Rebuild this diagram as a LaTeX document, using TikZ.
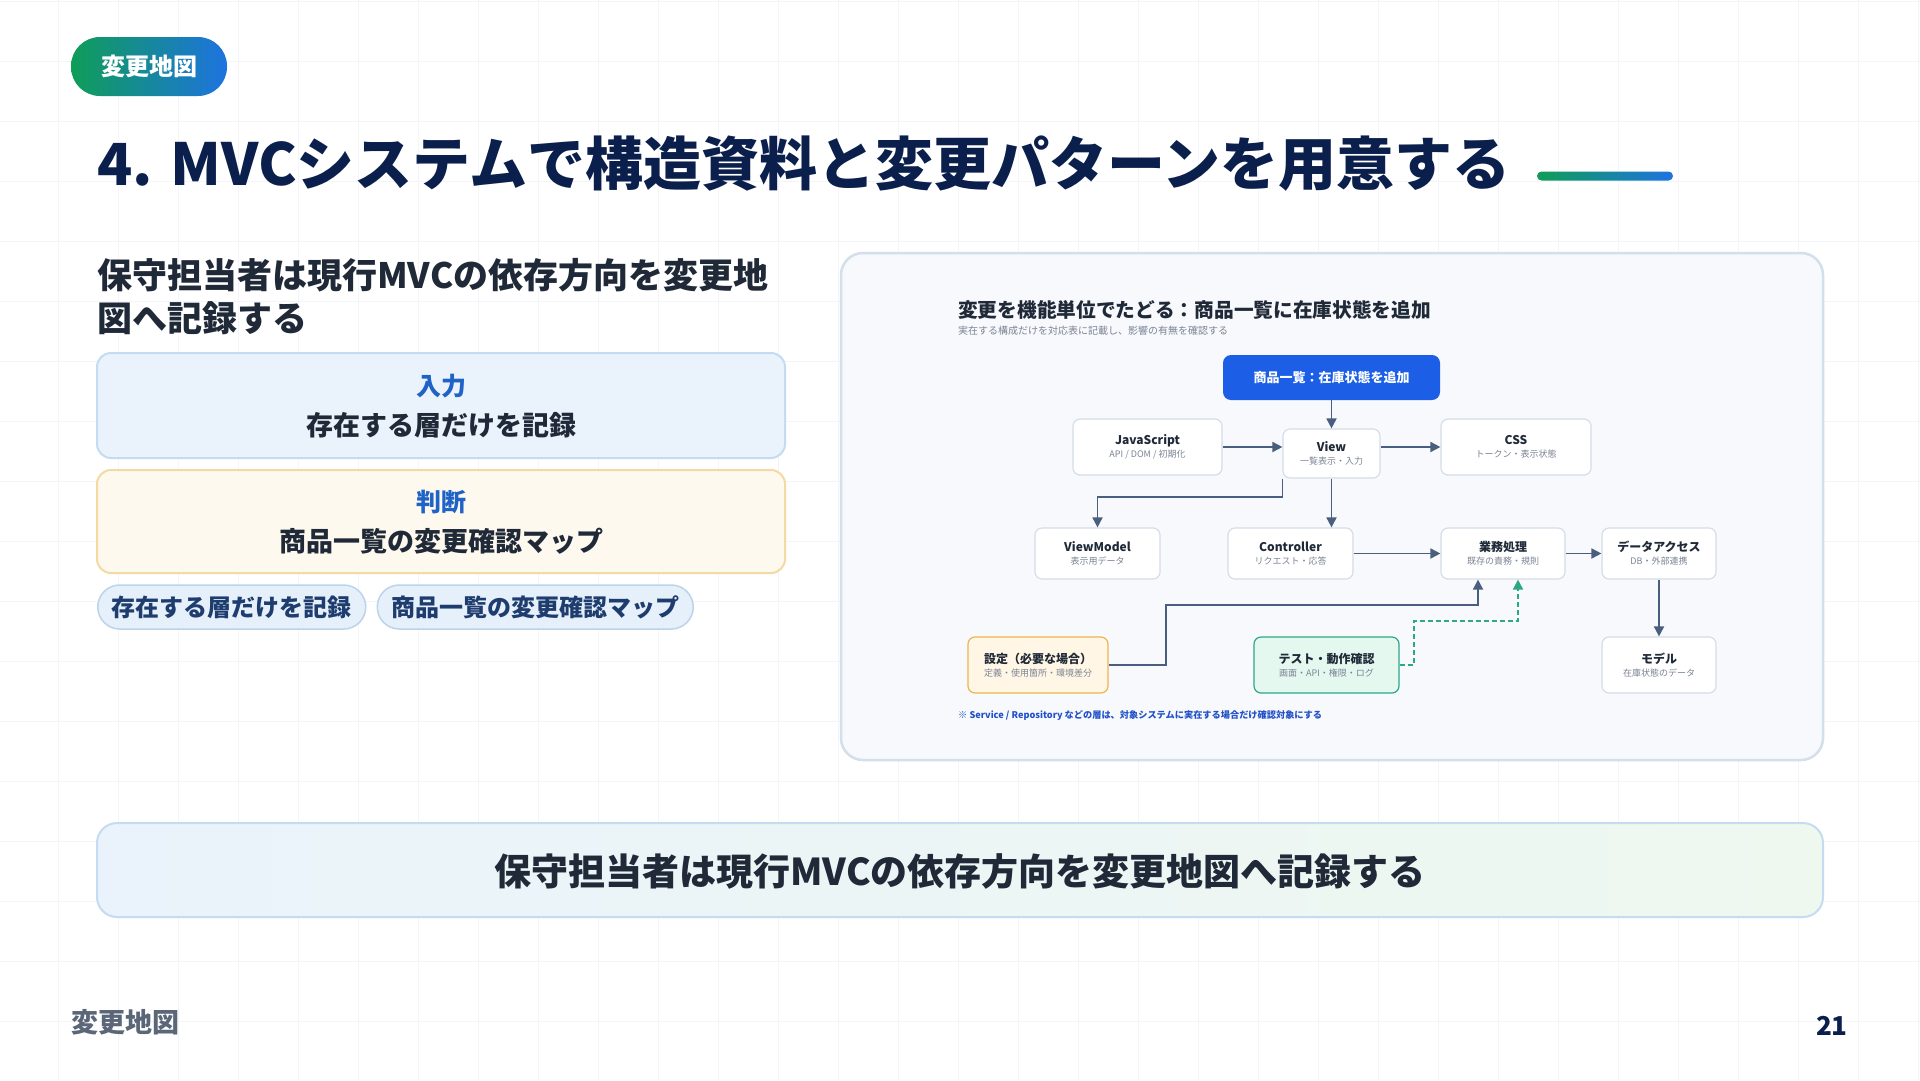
\documentclass[tikz,border=0pt]{standalone}
\usepackage{fontspec}
\setmainfont{Noto Sans CJK JP}
\usetikzlibrary{positioning, arrows.meta}

\definecolor{navy}{HTML}{0B1F4D}
\definecolor{ink}{HTML}{1F2937}
\definecolor{subgray}{HTML}{7B8494}
\definecolor{gridline}{HTML}{F3F5F8}
\definecolor{badgegreen}{HTML}{0F9D58}
\definecolor{badgeblue}{HTML}{1E73E0}
\definecolor{inputbg}{HTML}{EAF3FC}
\definecolor{inputline}{HTML}{C4DBF1}
\definecolor{judgebg}{HTML}{FEF9EE}
\definecolor{judgeline}{HTML}{F4D9A2}
\definecolor{labelblue}{HTML}{1F63C6}
\definecolor{pilltext}{HTML}{1E3D6E}
\definecolor{pillbg}{HTML}{E6F0FA}
\definecolor{pillline}{HTML}{BCD3EA}
\definecolor{panelbg}{HTML}{F7F9FC}
\definecolor{panelline}{HTML}{D3DFEB}
\definecolor{nodeline}{HTML}{D5DDE8}
\definecolor{arrowgray}{HTML}{4A5F7F}
\definecolor{actionblue}{HTML}{1C5FE6}
\definecolor{confbg}{HTML}{FFF6E5}
\definecolor{confline}{HTML}{EDB54F}
\definecolor{testbg}{HTML}{E5F8F0}
\definecolor{testline}{HTML}{2DA884}
\definecolor{noteblue}{HTML}{2150C8}
\definecolor{bannerl}{HTML}{EAF3FB}
\definecolor{bannerr}{HTML}{EEF8EF}
\definecolor{footgray}{HTML}{5B6678}

\newcommand{\ctext}[2]{{\fontsize{12}{14}\selectfont\bfseries\color{ink}#1}\\[1pt]{\fontsize{9}{10}\selectfont\color{subgray}#2}}

\begin{document}
\begin{tikzpicture}[x=1pt, y=-1pt,
    comp/.style={draw=nodeline, fill=white, rounded corners=7pt, line width=1.2pt, align=center, inner sep=0pt},
    flow/.style={draw=arrowgray, line width=1.8pt, -{Triangle[length=10pt,width=10pt]}},
    testflow/.style={flow, draw=testline, dashed, dash pattern=on 5pt off 3pt},
    pill/.style={draw=pillline, fill=pillbg, line width=1.5pt, rounded corners=22pt, minimum height=44pt, inner xsep=14pt,
        font=\fontsize{24}{26}\selectfont\bfseries, text=pilltext},
    boxhead/.style={font=\fontsize{25}{28}\selectfont\bfseries, text=labelblue},
    boxbody/.style={font=\fontsize{27}{30}\selectfont\bfseries, text=ink}]
    \useasboundingbox (0,0) rectangle (1920,1080);
    \fill[white] (0,0) rectangle (1920,1080);
    %background grid
    \foreach \x in {58,118,...,1918} \draw[gridline, line width=1pt] (\x,0) -- (\x,1080);
    \foreach \y in {1,61,...,1081} \draw[gridline, line width=1pt] (0,\y) -- (1920,\y);

    %header
    \shade[left color=badgegreen, right color=badgeblue, rounded corners=29pt] (71,37) rectangle (227,96);
    \node[text=white, font=\fontsize{24}{26}\selectfont\bfseries] (badge) at (149,66.5) {変更地図};
    \node[anchor=west, inner sep=0pt, text=navy, font=\fontsize{58}{64}\selectfont\bfseries] (title) at (97,164)
        {4. MVCシステムで構造資料と変更パターンを用意する};
    \shade[left color=badgegreen, right color=badgeblue, rounded corners=4.5pt] (1537,171.5) rectangle (1673,180.5);

    %left column
    \node[anchor=north west, inner sep=0pt, align=left, text=ink, font=\fontsize{35}{43}\selectfont\bfseries] (lead) at (97,258)
        {保守担当者は現行MVCの依存方向を変更地\\図へ記録する};
    \draw[fill=inputbg, draw=inputline, line width=2pt, rounded corners=14pt] (97,353) rectangle (785,458);
    \node[boxhead] (inHead) at (441,386) {入力};
    \node[boxbody] (inBody) at (441,425) {存在する層だけを記録};
    \draw[fill=judgebg, draw=judgeline, line width=2pt, rounded corners=14pt] (97,470) rectangle (785,573);
    \node[boxhead] (judgeHead) at (441,502) {判断};
    \node[boxbody] (judgeBody) at (441,541) {商品一覧の変更確認マップ};
    \node[pill, anchor=west] (pillA) at (97,607) {存在する層だけを記録};
    \node[pill, right=10pt of pillA] (pillB) {商品一覧の変更確認マップ};

    %diagram panel
    \draw[fill=panelbg, draw=panelline, line width=2.5pt, rounded corners=22pt] (841,253) rectangle (1823,760);
    \node[anchor=west, inner sep=0pt, text=ink, font=\fontsize{19.7}{22}\selectfont\bfseries] (ptitle) at (958,310)
        {変更を機能単位でたどる：商品一覧に在庫状態を追加};
    \node[anchor=west, inner sep=0pt, text=subgray, font=\fontsize{10}{12}\selectfont] (psub) at (958,331)
        {実在する構成だけを対応表に記載し、影響の有無を確認する};

    \node[fill=actionblue, rounded corners=8pt, minimum width=217pt, minimum height=45pt, text=white,
        font=\fontsize{13}{15}\selectfont\bfseries] (top) at (1331.5,377.5) {商品一覧：在庫状態を追加};
    \node[comp, minimum width=149pt, minimum height=56pt] (js) at (1147.5,447) {\ctext{JavaScript}{API / DOM / 初期化}};
    \node[comp, minimum width=97pt, minimum height=49pt] (view) at (1331.5,453.5) {\ctext{View}{一覧表示・入力}};
    \node[comp, minimum width=150pt, minimum height=56pt] (css) at (1516,447) {\ctext{CSS}{トークン・表示状態}};
    \node[comp, minimum width=125pt, minimum height=51pt] (vm) at (1097.5,553.5) {\ctext{ViewModel}{表示用データ}};
    \node[comp, minimum width=125pt, minimum height=51pt] (ctrl) at (1290.5,553.5) {\ctext{Controller}{リクエスト・応答}};
    \node[comp, minimum width=124pt, minimum height=51pt] (biz) at (1503,553.5) {\ctext{業務処理}{既存の責務・規則}};
    \node[comp, minimum width=114pt, minimum height=51pt] (dao) at (1659,553.5) {\ctext{データアクセス}{DB・外部連携}};
    \node[comp, fill=confbg, draw=confline, minimum width=140pt, minimum height=56pt] (conf) at (1038,665)
        {\ctext{設定（必要な場合）}{定義・使用箇所・環境差分}};
    \node[comp, fill=testbg, draw=testline, minimum width=145pt, minimum height=56pt] (test) at (1326.5,665)
        {\ctext{テスト・動作確認}{画面・API・権限・ログ}};
    \node[comp, minimum width=114pt, minimum height=56pt] (model) at (1659,665) {\ctext{モデル}{在庫状態のデータ}};
    \node[anchor=west, inner sep=0pt, text=noteblue, font=\fontsize{9.2}{11}\selectfont\bfseries] (note) at (958,716)
        {※ Service / Repository などの層は、対象システムに実在する場合だけ確認対象にする};

    %connectors
    \draw[flow] (top) -- (view);
    \draw[flow] (js.east) -- (view.west |- js.east);
    \draw[flow] (view.east |- css.west) -- (css.west);
    \draw[flow] (view.south west) -- ++(0,18) -| (vm.north);
    \draw[flow] (view.south) -- (view.south |- ctrl.north);
    \draw[flow] (ctrl) -- (biz);
    \draw[flow] (biz) -- (dao);
    \draw[flow] (dao) -- (model);
    \draw[flow] (conf.east) -| (1166,605) -| ([xshift=-25pt]biz.south);
    \draw[testflow] (test.east) -| (1414,621) -| ([xshift=15pt]biz.south);

    %bottom banner
    \path[draw=inputline, line width=2pt, left color=bannerl, right color=bannerr, rounded corners=20pt] (97,823) rectangle (1823,917);
    \node[text=ink, font=\fontsize{37}{42}\selectfont\bfseries] (banner) at (960,871)
        {保守担当者は現行MVCの依存方向を変更地図へ記録する};

    %footer
    \node[anchor=west, inner sep=0pt, text=footgray, font=\fontsize{27}{30}\selectfont\bfseries] (foot) at (71,1022) {変更地図};
    \node[anchor=east, inner sep=0pt, text=navy, font=\fontsize{26}{30}\selectfont\bfseries] (page) at (1848,1026) {21};
\end{tikzpicture}
\end{document}
